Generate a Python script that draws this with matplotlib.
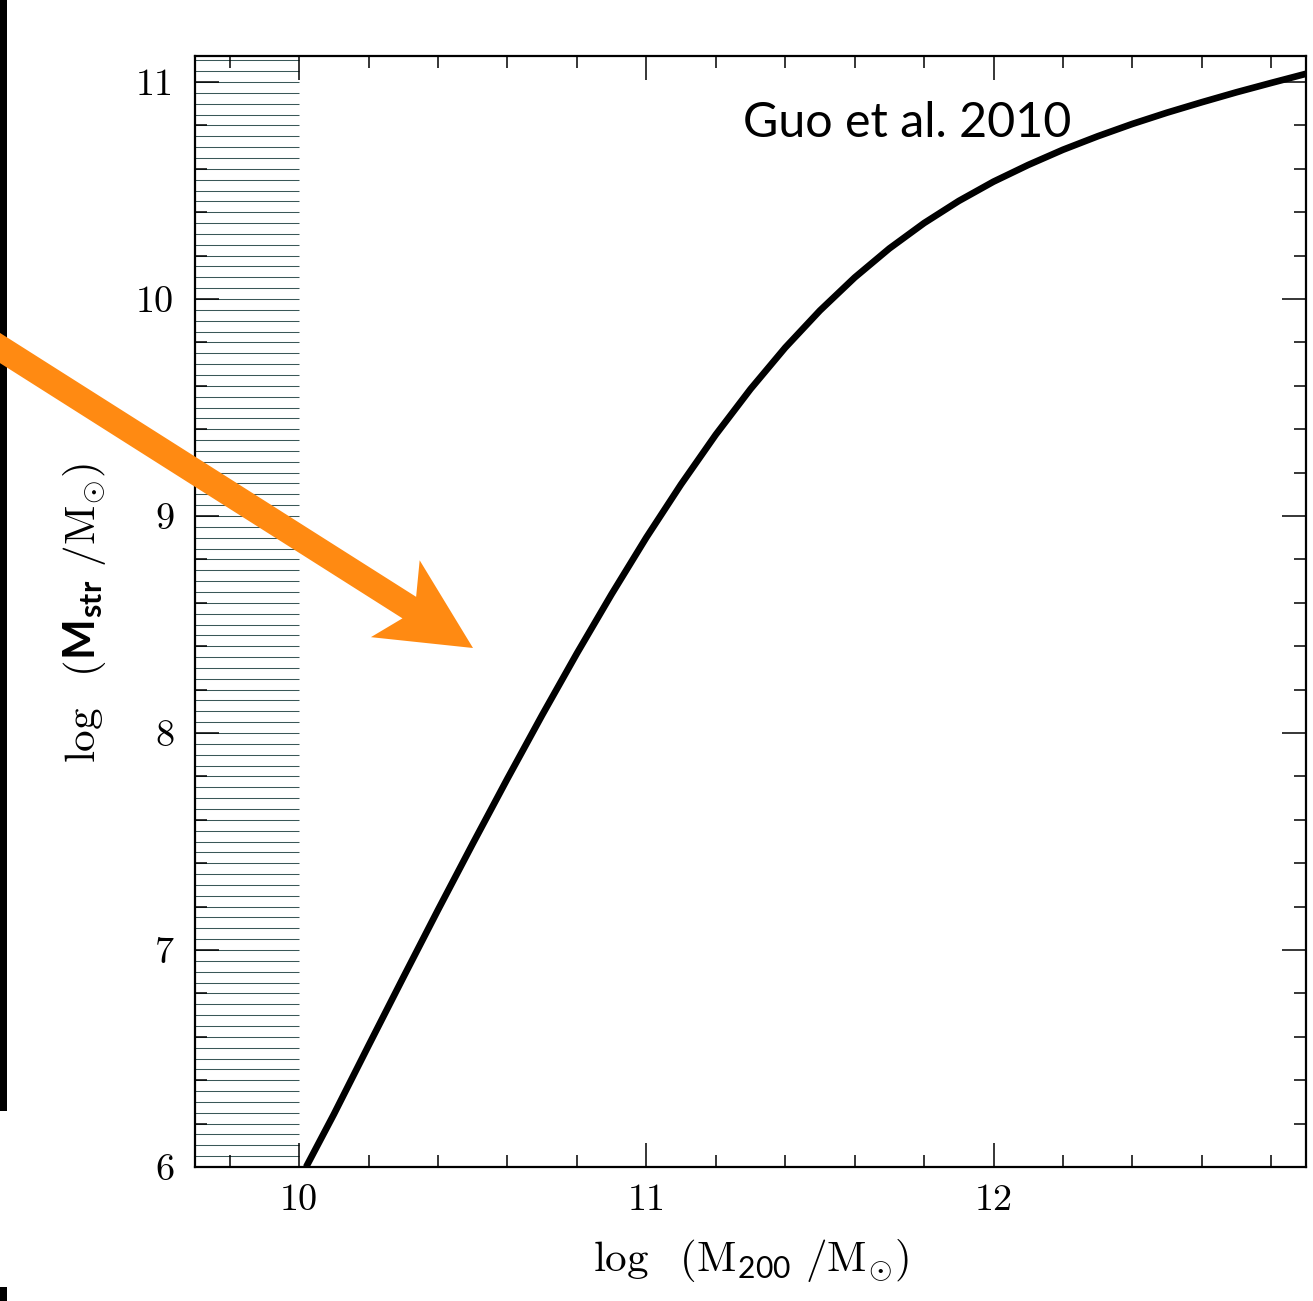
import numpy as np
import matplotlib
matplotlib.use("Agg")
import matplotlib.pyplot as plt
from matplotlib.ticker import MultipleLocator
from matplotlib.patches import FancyArrow, Rectangle

# Fonts: Computer Modern for numbers and roman math, Lato for the sans parts
plt.rcParams["mathtext.fontset"] = "custom"
plt.rcParams["mathtext.rm"] = "cmr10"
plt.rcParams["mathtext.it"] = "cmmi10"
plt.rcParams["mathtext.bf"] = "Lato:bold"
plt.rcParams["mathtext.sf"] = "Lato"
plt.rcParams["mathtext.fallback"] = "cm"
plt.rcParams["font.family"] = ["cmr10", "DejaVu Serif"]
plt.rcParams["axes.unicode_minus"] = False

# Stellar-mass / halo-mass relation (Guo et al. 2010)
halo_mass = [10.02, 10.10, 10.20, 10.30, 10.40, 10.50, 10.60, 10.70, 10.80,
             10.90, 11.00, 11.10, 11.20, 11.30, 11.40, 11.50, 11.60, 11.70,
             11.80, 11.90, 12.00, 12.10, 12.20, 12.30, 12.40, 12.50, 12.60,
             12.70, 12.80, 12.90]
stellar_mass = [6.000, 6.243, 6.560, 6.874, 7.185, 7.490, 7.790, 8.083, 8.367,
                8.640, 8.901, 9.146, 9.375, 9.585, 9.776, 9.947, 10.099, 10.233,
                10.350, 10.452, 10.541, 10.618, 10.688, 10.750, 10.807, 10.859,
                10.907, 10.953, 10.996, 11.038]

# Hatched region below the resolution limit
cut_mass = 10.0
hatch_levels = np.arange(6.0, 11.101, 0.05)

x_range = (9.7, 12.9)
y_range = (6.0, 11.12)

fig = plt.figure(figsize=(13.13, 13.01), dpi=100)
W, H = 1313, 1301
ax = fig.add_axes([195 / W, 1 - 1167 / H, (1306 - 195) / W, (1167 - 56) / H])

ax.hlines(hatch_levels, x_range[0], cut_mass, color="#3a5858", lw=0.75, zorder=1)
ax.plot(halo_mass, stellar_mass, color="black", lw=4.8,
        solid_capstyle="butt", solid_joinstyle="round", zorder=3)

ax.set_xlim(*x_range)
ax.set_ylim(*y_range)
ax.xaxis.set_major_locator(MultipleLocator(1))
ax.xaxis.set_minor_locator(MultipleLocator(0.2))
ax.yaxis.set_major_locator(MultipleLocator(1))
ax.yaxis.set_minor_locator(MultipleLocator(0.2))
ax.tick_params(which="both", direction="in", top=True, right=True,
               width=1.1, labelsize=27.5, colors="black")
ax.tick_params(which="major", length=17)
ax.tick_params(which="minor", length=8.6)
ax.tick_params(axis="x", pad=12)
ax.tick_params(axis="y", pad=15)
for s in ax.spines.values():
    s.set_linewidth(1.6)

ax.text(11.278, 10.746, "Guo et al. 2010", family="Lato", fontsize=34.8,
        ha="left", va="baseline", zorder=4)

fig.text(751 / W, 1 - 1261 / H,
         r"$\log\ \ (\mathrm{M}_{\mathsf{200}}\ /\mathrm{M}_{\odot})$",
         fontsize=31, ha="center", va="center")
fig.text(85 / W, 1 - 613 / H,
         r"$\log\ \ (\mathbf{M}_{\mathbf{str}}\ /\mathrm{M}_{\odot})$",
         fontsize=31, ha="center", va="center", rotation=90)

# Slide edge bars
fig.add_artist(Rectangle((0, 1 - 1111 / H), 7 / W, 1111 / H,
                         transform=fig.transFigure, color="black", lw=0, zorder=5))
fig.add_artist(Rectangle((0, 0), 7 / W, 14 / H,
                         transform=fig.transFigure, color="black", lw=0, zorder=5))

# Orange pointer arrow (inches)
arrow = FancyArrow(-0.30, 9.72, 5.03, -3.19, width=0.255, head_width=0.91,
                   head_length=0.92, overhang=0.18, length_includes_head=True,
                   transform=fig.dpi_scale_trans, color="#FF8A12", lw=0, zorder=10)
fig.add_artist(arrow)

fig.savefig("out.png", dpi=100, facecolor="white")
